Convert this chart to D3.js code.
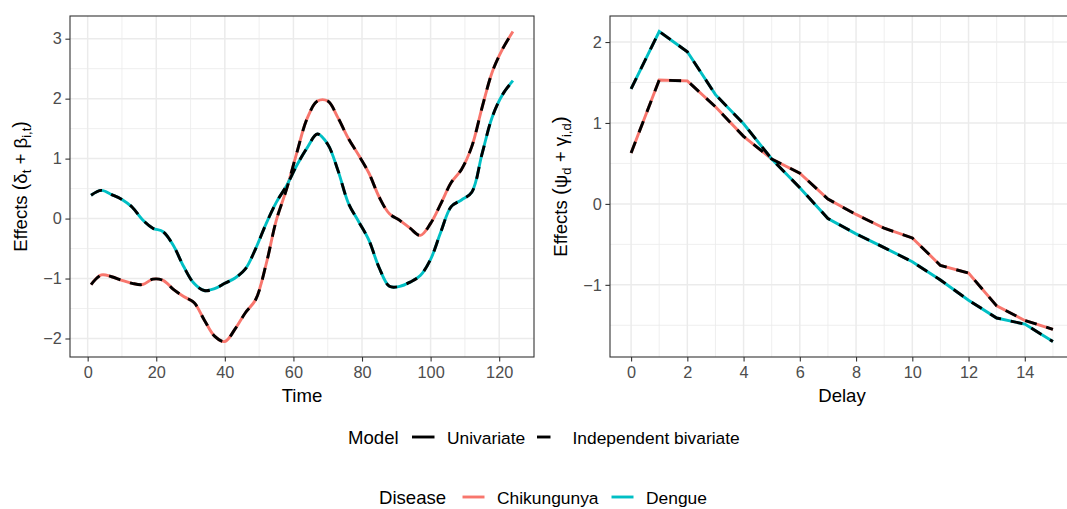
<!DOCTYPE html>
<html>
<head>
<meta charset="utf-8">
<script src="https://cdn.jsdelivr.net/npm/d3@7"></script>
<style>
  html, body { margin: 0; padding: 0; background: #ffffff; }
  svg { display: block; font-family: "Liberation Sans", Arial, Helvetica, sans-serif; }
</style>
</head>
<body>
<svg id="chart" width="1067" height="509"></svg>
<script>
// ---------------- Data ----------------
const timePoints = [1, 4, 7, 10, 13, 16, 19, 22, 25, 28, 31, 34, 37, 40, 43, 46, 49, 52, 55, 58, 61,
  64, 67, 70, 73, 76, 79, 82, 85, 88, 91, 94, 97, 100, 103, 106, 109, 112, 115, 118, 121, 124];
const chikTime = [-1.10, -0.94, -0.97, -1.03, -1.08, -1.10, -1.01, -1.03, -1.18, -1.30, -1.40, -1.69,
  -1.96, -2.05, -1.84, -1.57, -1.35, -0.77, -0.03, 0.49, 1.10, 1.67, 1.96, 1.96, 1.68, 1.34, 1.06,
  0.76, 0.36, 0.08, -0.03, -0.16, -0.28, -0.08, 0.25, 0.60, 0.82, 1.20, 1.85, 2.45, 2.83, 3.12];
const dengueTime = [0.39, 0.47, 0.40, 0.32, 0.19, -0.02, -0.16, -0.22, -0.45, -0.80, -1.08, -1.20,
  -1.17, -1.08, -0.99, -0.84, -0.50, -0.09, 0.27, 0.55, 0.89, 1.18, 1.41, 1.24, 0.80, 0.26, -0.05,
  -0.36, -0.82, -1.13, -1.13, -1.06, -0.95, -0.68, -0.22, 0.20, 0.31, 0.44, 1.08, 1.70, 2.07, 2.30];

const delays = [0, 1, 2, 3, 4, 5, 6, 7, 8, 9, 10, 11, 12, 13, 14, 15];
const chikDelay = [0.63, 1.53, 1.52, 1.20, 0.835, 0.555, 0.38, 0.06, -0.13, -0.30, -0.42, -0.76,
  -0.855, -1.26, -1.44, -1.55];
const dengueDelay = [1.42, 2.13, 1.88, 1.35, 0.99, 0.555, 0.20, -0.18, -0.37, -0.54, -0.715, -0.94,
  -1.19, -1.41, -1.485, -1.70];

const timeTicks = [0, 20, 40, 60, 80, 100, 120];
const timeMinor = [10, 30, 50, 70, 90, 110];
const timeYTicks = [-2, -1, 0, 1, 2, 3];
const timeYMinor = [-1.5, -0.5, 0.5, 1.5, 2.5];
const delayTicks = [0, 2, 4, 6, 8, 10, 12, 14];
const delayMinor = [1, 3, 5, 7, 9, 11, 13, 15];
const delayYTicks = [-1, 0, 1, 2];
const delayYMinor = [-1.5, -0.5, 0.5, 1.5];

const diseases = ["Chikungunya", "Dengue"];
const diseaseColors = ["#F8766D", "#00BFC4"];
const models = ["Univariate", "Independent bivariate"];

// ---------------- Layout ----------------
const svg = d3.select("#chart");
const pTop = 16, pBottom = 357;
const lineW = 2.9, dash = "12,10";

function expand(vals) {
  const lo = d3.min(vals), hi = d3.max(vals), r = hi - lo;
  return [lo - 0.05 * r, hi + 0.05 * r];
}

function panel(opts) {
  const g = svg.append("g");
  const x = d3.scaleLinear().domain(expand(opts.xs)).range([opts.left, opts.right]);
  const y = d3.scaleLinear().domain(expand(opts.ys.flat())).range([pBottom, pTop]);

  // grid
  const grid = g.append("g");
  grid.selectAll(".vmin").data(opts.xMinor).join("line")
    .attr("x1", d => x(d)).attr("x2", d => x(d)).attr("y1", pTop).attr("y2", pBottom)
    .attr("stroke", "#EBEBEB").attr("stroke-width", 0.8);
  grid.selectAll(".hmin").data(opts.yMinor).join("line")
    .attr("x1", opts.left).attr("x2", opts.right).attr("y1", d => y(d)).attr("y2", d => y(d))
    .attr("stroke", "#EBEBEB").attr("stroke-width", 0.8);
  grid.selectAll(".vmaj").data(opts.xTicks).join("line")
    .attr("x1", d => x(d)).attr("x2", d => x(d)).attr("y1", pTop).attr("y2", pBottom)
    .attr("stroke", "#EBEBEB").attr("stroke-width", 1.5);
  grid.selectAll(".hmaj").data(opts.yTicks).join("line")
    .attr("x1", opts.left).attr("x2", opts.right).attr("y1", d => y(d)).attr("y2", d => y(d))
    .attr("stroke", "#EBEBEB").attr("stroke-width", 1.5);

  const line = d3.line().x(d => x(d[0])).y(d => y(d[1])).curve(opts.curve);
  // univariate (solid, coloured)
  opts.ys.forEach((vals, i) => {
    g.append("path").datum(opts.xs.map((t, k) => [t, vals[k]]))
      .attr("d", line).attr("fill", "none")
      .attr("stroke", diseaseColors[i]).attr("stroke-width", lineW);
  });
  // independent bivariate (dashed, black)
  opts.ys.forEach((vals, i) => {
    g.append("path").datum(opts.xs.map((t, k) => [t, vals[k]]))
      .attr("d", line).attr("fill", "none")
      .attr("stroke", "#000000").attr("stroke-width", lineW)
      .attr("stroke-dasharray", dash);
  });

  // border
  g.append("rect").attr("x", opts.left).attr("y", pTop)
    .attr("width", opts.right - opts.left).attr("height", pBottom - pTop)
    .attr("fill", "none").attr("stroke", "#333333").attr("stroke-width", 1.1);

  // axes
  const xa = g.append("g").attr("transform", `translate(0,${pBottom})`)
    .call(d3.axisBottom(x).tickValues(opts.xTicks).tickSize(4.6).tickPadding(5).tickFormat(d3.format("d")));
  const ya = g.append("g").attr("transform", `translate(${opts.left},0)`)
    .call(d3.axisLeft(y).tickValues(opts.yTicks).tickSize(4.6).tickPadding(3.7).tickFormat(d3.format("d")));
  [xa, ya].forEach(a => {
    a.select(".domain").remove();
    a.selectAll(".tick line").attr("stroke", "#333333").attr("stroke-width", 1.1);
    a.selectAll(".tick text").attr("fill", "#4D4D4D").attr("font-size", 16.3)
      .attr("font-family", "'Liberation Sans', Arial, sans-serif");
  });

  // x title
  g.append("text").attr("x", (opts.left + opts.right) / 2).attr("y", 401.5)
    .attr("text-anchor", "middle").attr("font-size", 18.6).attr("fill", "#000")
    .text(opts.xTitle);

  // y title (plotmath-like)
  const yt = g.append("text")
    .attr("transform", `translate(${opts.left - 43},${(pTop + pBottom) / 2}) rotate(-90)`)
    .attr("text-anchor", "middle").attr("font-size", 18.6).attr("fill", "#000");
  yt.append("tspan").text("Effects ");
  yt.append("tspan").attr("font-size", opts.parenSize).text("(");
  yt.append("tspan").text(opts.g1);
  yt.append("tspan").attr("font-size", 13).attr("dy", 4).text(opts.s1);
  yt.append("tspan").attr("dy", -4).text(" + " + opts.g2);
  yt.append("tspan").attr("font-size", 13).attr("dy", 4).text(opts.s2);
  yt.append("tspan").attr("dy", -4).attr("font-size", opts.parenSize).text(")");
}

panel({
  left: 70, right: 534, xs: timePoints, ys: [chikTime, dengueTime],
  xTicks: timeTicks, xMinor: timeMinor, yTicks: timeYTicks, yMinor: timeYMinor,
  curve: d3.curveCatmullRom.alpha(0.5), xTitle: "Time",
  g1: "\u03B4", s1: "t", g2: "\u03B2", s2: "i,t", parenSize: 19.5
});
panel({
  left: 610, right: 1074, xs: delays, ys: [chikDelay, dengueDelay],
  xTicks: delayTicks, xMinor: delayMinor, yTicks: delayYTicks, yMinor: delayYMinor,
  curve: d3.curveLinear, xTitle: "Delay",
  g1: "\u03C8", s1: "d", g2: "\u03B3", s2: "i,d", parenSize: 21
});

// ---------------- Legends ----------------
const leg = svg.append("g").attr("fill", "#000");
// Model
leg.append("text").attr("x", 348).attr("y", 444).attr("font-size", 18.6).text("Model");
const modelKeys = [{x: 412, label: 447, dashed: false}, {x: 537, label: 572.5, dashed: true}];
models.forEach((m, i) => {
  const k = modelKeys[i];
  leg.append("line").attr("x1", k.x).attr("x2", k.x + 22.5).attr("y1", 437).attr("y2", 437)
    .attr("stroke", "#000").attr("stroke-width", lineW)
    .attr("stroke-dasharray", k.dashed ? "13.5,12" : null);
  leg.append("text").attr("x", k.label).attr("y", 444).attr("font-size", 17.4).text(m);
});
// Disease
const dBase = 504;
leg.append("text").attr("x", 379).attr("y", dBase).attr("font-size", 18.6).text("Disease");
const diseaseKeys = [{x: 462.5, label: 497}, {x: 611.5, label: 646}];
diseases.forEach((d, i) => {
  const k = diseaseKeys[i];
  leg.append("line").attr("x1", k.x).attr("x2", k.x + 22).attr("y1", dBase - 7).attr("y2", dBase - 7)
    .attr("stroke", diseaseColors[i]).attr("stroke-width", lineW);
  leg.append("text").attr("x", k.label).attr("y", dBase).attr("font-size", 17.4).text(d);
});
</script>
</body>
</html>
